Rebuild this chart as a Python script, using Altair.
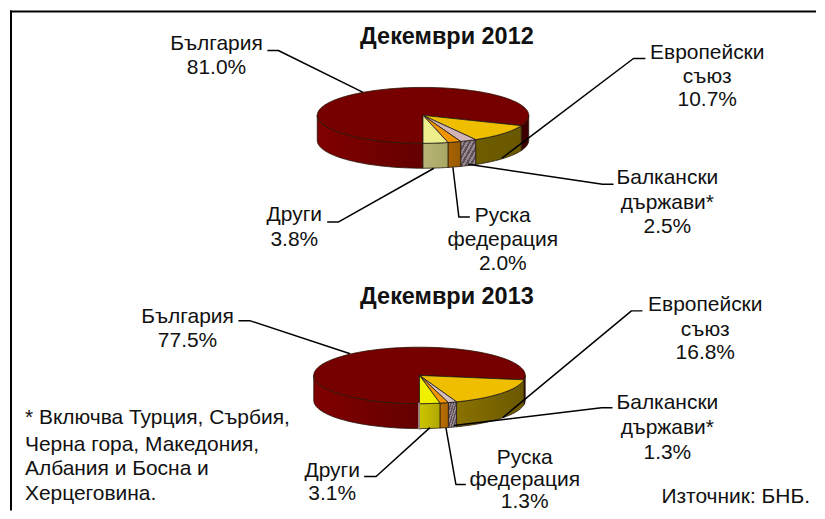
import math
import altair as alt
import pandas as pd

shares_2012 = [81.0, 10.7, 2.5, 2.0, 3.8]
shares_2013 = [77.5, 16.8, 1.3, 1.3, 3.1]
titles = ["Декември 2012", "Декември 2013"]
footnote = ["* Включва Турция, Сърбия,", "Черна гора, Македония,", "Албания и Босна и", "Херцеговина."]
source = "Източник: БНБ."

label_2012 = [["България", "81.0%"], ["Европейски", "съюз", "10.7%"], ["Балкански", "държави*", "2.5%"],
              ["Руска", "федерация", "2.0%"], ["Други", "3.8%"]]
label_2013 = [["България", "77.5%"], ["Европейски", "съюз", "16.8%"], ["Балкански", "държави*", "1.3%"],
              ["Руска", "федерация", "1.3%"], ["Други", "3.1%"]]

W, H = 809, 503
X = alt.X("x:Q", axis=None, scale=alt.Scale(domain=[8, 817], nice=False))
Y = alt.Y("y:Q", axis=None, scale=alt.Scale(domain=[8, 511], reverse=True, nice=False))
FONT = "Liberation Sans"
TOPS = ["#760000", "#F0BE00", "#D2B4B4", "#F29400", "#EEEE8C"]
TOPS_13 = ["#760000", "#F0BE00", "#D8BFBF", "#F29400", "#F0F000"]
WALLS = [("#800000", "#640000"), ("#6E5C00", "#6A5800"), None, ("#A86200", "#965A00"), ("#B8B478", "#A8A864")]
WALLS_13 = [("#800000", "#640000"), ("#8A7200", "#6A5800"), None, ("#BA6E00", "#A86400"), ("#CDC400", "#B0A800")]
DARK_RIGHT = "#3C0000"


def gradient(c1, c2):
    return alt.Gradient(gradient="linear", x1=0, y1=0, x2=1, y2=0,
                        stops=[alt.GradientStop(offset=0, color=c1), alt.GradientStop(offset=1, color=c2)])


def hatch():
    stops = []
    n = 13
    for i in range(n):
        c = "#5E4E58" if i % 2 == 0 else "#96888F"
        stops.append(alt.GradientStop(offset=i / n, color=c))
        stops.append(alt.GradientStop(offset=(i + 1) / n, color=c))
    return alt.Gradient(gradient="linear", x1=0, y1=0, x2=1, y2=1, stops=stops)


def pt(c, t, dy=0):
    cx, cy, rx, ry = c
    r = math.radians(t)
    return cx + rx * math.sin(r), cy - ry * math.cos(r) + dy


def arc(c, a, b, dy=0):
    n = max(2, int(abs(b - a) / 2) + 2)
    return [pt(c, a + (b - a) * i / (n - 1), dy) for i in range(n)]


def path_layer(points, fill, stroke="#1a1a1a", sw=0.9):
    df = pd.DataFrame(points, columns=["x", "y"])
    df["i"] = range(len(df))
    return alt.Chart(df).mark_line(fill=fill, stroke=stroke, strokeWidth=sw, strokeJoin="round", clip=False).encode(
        x=X, y=Y, order="i:Q")


def pie(c, depth, shares, tops, walls):
    layers = []
    edges = [180.0]
    for s in shares:
        edges.append(edges[-1] + s * 3.6)
    edges[-1] = 540.0
    for k in range(len(shares)):
        a, b = edges[k], edges[k + 1]
        for turn in (0, 360):
            lo, hi = max(a, 90 + turn), min(b, 270 + turn)
            if hi <= lo:
                continue
            pts = arc(c, lo, hi) + arc(c, hi, lo, depth)
            pts.append(pts[0])
            if walls[k] is None:
                fill = hatch()
            elif k == 0 and turn == 360:
                fill = DARK_RIGHT
            else:
                fill = gradient(*walls[k])
            layers.append(path_layer(pts, fill, stroke="#2a1a10", sw=0.8))
    for k in range(len(shares)):
        a, b = edges[k], edges[k + 1]
        pts = [(c[0], c[1])] + arc(c, a, b) + [(c[0], c[1])]
        layers.append(path_layer(pts, tops[k], stroke="#2a1200" if k == 0 else "#1a1a1a", sw=0.8))
    return layers


def polyline(points, color="black", sw=1.5):
    return path_layer(points, "transparent", stroke=color, sw=sw)


def texts(rows, **kw):
    df = pd.DataFrame(rows, columns=["x", "y", "t"])
    return alt.Chart(df).mark_text(font=FONT, color="#111111", baseline="middle", **kw).encode(
        x=X, y=Y, text="t:N")


def label_rows(lines, cx, ys):
    return [(cx, y, t) for t, y in zip(lines, ys)]


layers = []
layers.append(polyline([(9, 11), (817, 11)], sw=2))
layers.append(polyline([(10, 10), (10, 511)], sw=2))

layers += pie((423, 115, 106, 28), 25, shares_2012, TOPS, WALLS)
layers += pie((419.5, 375.7, 106, 28.3), 25, shares_2013, TOPS_13, WALLS_13)
layers.append(polyline([(419, 403), (419, 430), (421, 430)], color="#C8C8C0", sw=1.2))

for line in [
    [(267, 50), (278, 50), (363, 92)],
    [(646, 58), (634, 58), (502, 158)],
    [(614, 184), (603, 184), (468, 164)],
    [(470, 217), (459, 217), (453, 167)],
    [(327, 222), (338, 222), (434, 168)],
    [(238, 321), (250, 321), (350, 354)],
    [(643, 311), (632, 311), (503, 418)],
    [(613, 408), (602, 408), (454, 426)],
    [(466, 485), (456, 485), (446, 428)],
    [(364, 477), (376, 477), (430, 428)],
]:
    layers.append(polyline(line))

rows = []
rows += label_rows(label_2012[0], 216, [43, 68])
rows += label_rows(label_2012[1], 708, [53, 77, 100])
rows += label_rows(label_2012[2], 668, [178, 203, 227])
rows += label_rows(label_2012[3], 503, [216, 240, 264])
rows += label_rows(label_2012[4], 294, [215, 240])
rows += label_rows(label_2013[0], 187, [317, 341])
rows += label_rows(label_2013[1], 706, [305, 330, 353])
rows += label_rows(label_2013[2], 668, [403, 428, 453])
rows += label_rows(label_2013[3], 525, [459, 481, 503])
rows += label_rows(label_2013[4], 332, [472, 495])
layers.append(texts(rows, fontSize=21, align="center"))
layers.append(texts([(447, 36, titles[0]), (447, 297, titles[1])], fontSize=23.5, fontWeight="bold", align="center"))
layers.append(texts([(24, y, t) for t, y in zip(footnote, [418, 445, 470, 495])], fontSize=21, align="left"))
layers.append(texts([(662, 498, source)], fontSize=21, align="left"))

chart = alt.layer(*layers).properties(width=W, height=H, padding=0, background="white").configure_view(stroke=None)
chart.save("out.html", embed_options={"renderer": "svg", "actions": False})
